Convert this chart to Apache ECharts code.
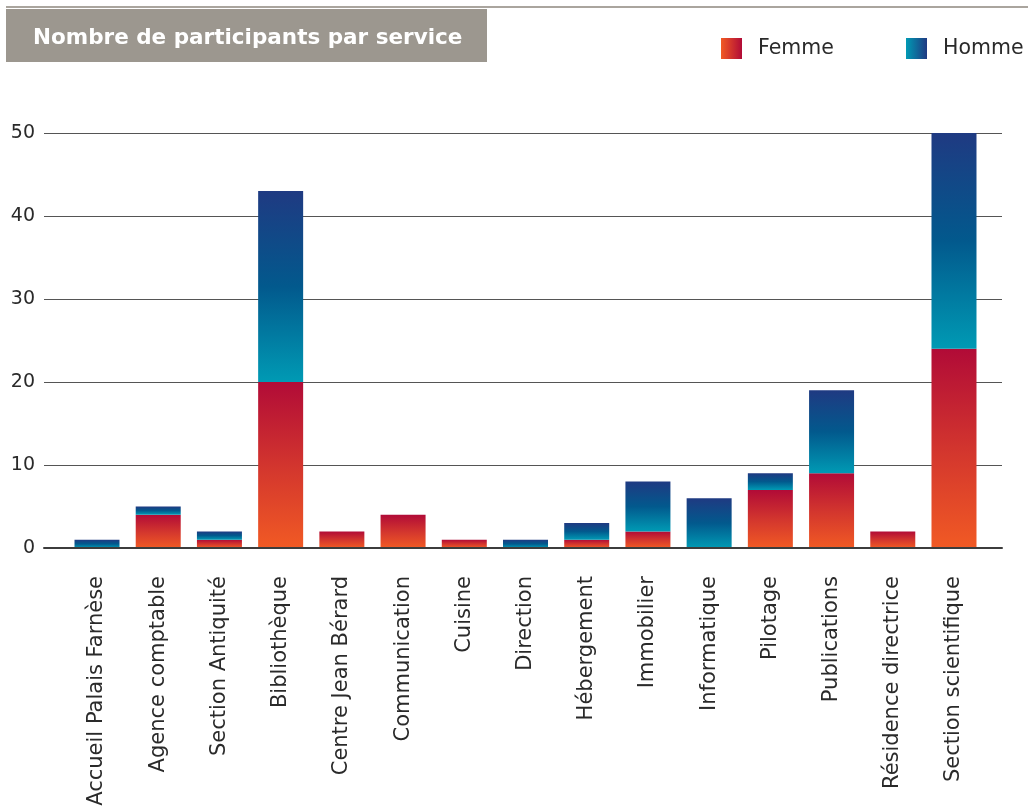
<!DOCTYPE html>
<html>
<head>
<meta charset="utf-8">
<script src="https://cdn.jsdelivr.net/npm/echarts@6/dist/echarts.min.js"></script>
<style>
  html, body { margin: 0; padding: 0; background: #fff; }
  #chart { width: 1028px; height: 812px; }
</style>
</head>
<body>
<div id="chart"></div>
<script>
// Services (categories)
const services = [
  'Accueil Palais Farnèse', 'Agence comptable', 'Section Antiquité', 'Bibliothèque',
  'Centre Jean Bérard', 'Communication', 'Cuisine', 'Direction', 'Hébergement',
  'Immobilier', 'Informatique', 'Pilotage', 'Publications', 'Résidence directrice',
  'Section scientifique'
];
// Participants per service
const femmes = [0, 4, 1, 20, 2, 4, 1, 0, 1, 2, 0, 7, 9, 2, 24];
const hommes = [1, 1, 1, 23, 0, 0, 0, 1, 2, 6, 6, 2, 10, 0, 26];
// Value axis
const yMin = 0, yMax = 50, yStep = 10;

const FONT = '"DejaVu Sans", "Noto Sans", sans-serif';

function vGrad(top, mid, bottom) {
  return new echarts.graphic.LinearGradient(0, 0, 0, 1, [
    { offset: 0, color: top }, { offset: 0.5, color: mid }, { offset: 1, color: bottom }
  ]);
}
function hGrad(left, right) {
  return new echarts.graphic.LinearGradient(0, 0, 1, 0, [
    { offset: 0, color: left }, { offset: 1, color: right }
  ]);
}

const femmeBar = vGrad('#b10b37', '#d2352e', '#f15a24');
const hommeBar = vGrad('#1f3a82', '#02598d', '#009ab4');

const chart = echarts.init(document.getElementById('chart'), null, { renderer: 'canvas' });

const legendBase = {
  top: 38, padding: 0, itemWidth: 21, itemHeight: 21, icon: 'rect',
  selectedMode: false,
  textStyle: { fontFamily: FONT, fontSize: 20.5, color: '#2a2a2a', padding: [4, 0, 0, 11] }
};

chart.setOption({
  animation: false,
  backgroundColor: '#fff',
  graphic: [
    { type: 'rect', shape: { x: 6, y: 6, width: 1022, height: 2 }, style: { fill: '#aaa59e' } },
    { type: 'rect', shape: { x: 6, y: 9, width: 481, height: 53 }, style: { fill: '#9c978f' } },
    { type: 'text', x: 33, y: 38, style: {
        text: 'Nombre de participants par service', fill: '#fff',
        font: 'bold 21.5px ' + FONT, textVerticalAlign: 'middle' } }
  ],
  legend: [
    Object.assign({}, legendBase, { left: 721, data: [{ name: 'Femme', itemStyle: { color: hGrad('#f15a24', '#b10b37') } }] }),
    Object.assign({}, legendBase, { left: 906, data: [{ name: 'Homme', itemStyle: { color: hGrad('#009ab4', '#1f3a82') } }] })
  ],
  grid: [
    // grid carrying the value scale, gridlines and baseline
    { left: 44, right: 26, top: 133, bottom: 264 },
    // grid carrying the bars
    { left: 66.4, right: 43.4, top: 133, bottom: 264 }
  ],
  xAxis: [
    { gridIndex: 0, type: 'value', min: 0, max: 1, z: 10,
      axisLine: { show: true, lineStyle: { color: '#3c3c3c', width: 2 } },
      axisTick: { show: false }, axisLabel: { show: false }, splitLine: { show: false } },
    { gridIndex: 1, type: 'category', data: services,
      axisLine: { show: false }, axisTick: { show: false },
      axisLabel: { rotate: 90, margin: 28, interval: 0, fontFamily: FONT, fontSize: 21, color: '#2a2a2a' } }
  ],
  yAxis: [
    { gridIndex: 0, type: 'value', min: yMin, max: yMax, interval: yStep,
      axisLine: { show: false }, axisTick: { show: false },
      axisLabel: { margin: 9, fontFamily: FONT, fontSize: 19, color: '#2a2a2a' },
      splitLine: { lineStyle: { color: '#555', width: 1 } } },
    { gridIndex: 1, type: 'value', min: yMin, max: yMax, interval: yStep, show: false,
      splitLine: { show: false } }
  ],
  series: [
    { name: 'Femme', type: 'bar', stack: 'total', xAxisIndex: 1, yAxisIndex: 1,
      barWidth: 45, data: femmes, itemStyle: { color: femmeBar } },
    { name: 'Homme', type: 'bar', stack: 'total', xAxisIndex: 1, yAxisIndex: 1,
      barWidth: 45, data: hommes, itemStyle: { color: hommeBar } }
  ]
});
</script>
</body>
</html>
